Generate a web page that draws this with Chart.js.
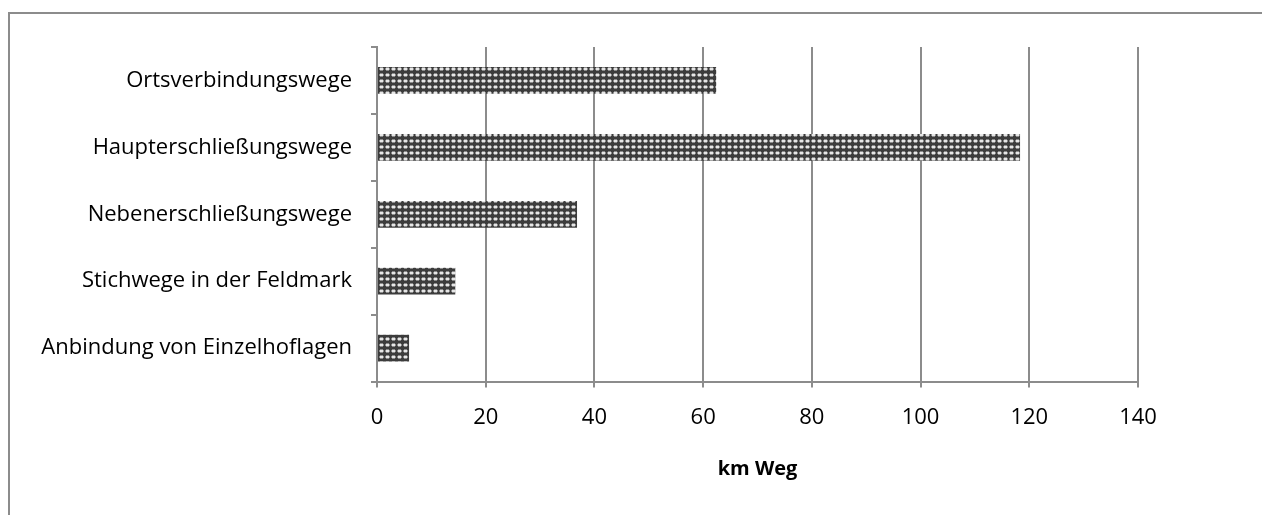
<!DOCTYPE html>
<html>
<head>
<meta charset="utf-8">
<script src="https://cdn.jsdelivr.net/npm/chart.js@4"></script>
<style>
  html, body { margin: 0; padding: 0; background: #fff; }
  #wrap { position: relative; width: 1262px; height: 515px; overflow: hidden; }
  #frame { position: absolute; left: 8px; top: 12px; width: 1300px; height: 600px;
           border-left: 2px solid #8c8c8c; border-top: 2px solid #8c8c8c; }
  canvas { position: absolute; left: 0; top: 0; }
</style>
</head>
<body>
<div id="wrap">
  <div id="frame"></div>
  <canvas id="chart" width="1262" height="515"></canvas>
</div>
<script>
/* Wegenetz — km Weg je Wegekategorie */

const categories = [
  'Ortsverbindungswege',
  'Haupterschließungswege',
  'Nebenerschließungswege',
  'Stichwege in der Feldmark',
  'Anbindung von Einzelhoflagen',
];
const kmWeg = [62.4, 118.3, 36.8, 14.4, 5.9];
const xTicks = [0, 20, 40, 60, 80, 100, 120, 140];
const axisTitle = 'km Weg';

const FONT = '"Open Sans"';
const GRID = '#8c8c8c';

// Punktraster wie im Excel-Muster
function makePattern() {
  const c = document.createElement('canvas');
  c.width = 6; c.height = 6;
  const g = c.getContext('2d');
  g.fillStyle = '#3c3c3c';
  g.fillRect(0, 0, 6, 6);
  g.fillStyle = '#8a8a8a';
  g.fillRect(2, 1, 3, 4);
  g.fillRect(1, 2, 5, 2);
  g.fillStyle = '#e6e6e6';
  g.fillRect(2, 2, 3, 2);
  return g.createPattern(c, 'repeat');
}

const ctx = document.getElementById('chart');
new Chart(ctx, {
  type: 'bar',
  data: {
    labels: categories,
    datasets: [{
      data: kmWeg,
      backgroundColor: makePattern(),
      borderWidth: 0,
      categoryPercentage: 1,
      barPercentage: 0.4,
    }],
  },
  options: {
    indexAxis: 'y',
    responsive: false,
    animation: false,
    devicePixelRatio: 1,
    layout: { padding: { left: 0, top: 47, right: 124, bottom: 34 } },
    plugins: { legend: { display: false }, tooltip: { enabled: false } },
    scales: {
      y: {
        grid: { offset: true, drawOnChartArea: false, tickLength: 6, color: GRID, lineWidth: 2 },
        border: { color: GRID, width: 2 },
        ticks: { color: '#000', padding: 19, font: { family: FONT, size: 22 } },
        afterFit(scale) { scale.width = 377; },
      },
      x: {
        min: 0,
        max: 140,
        afterBuildTicks(scale) { scale.ticks = xTicks.map(v => ({ value: v })); },
        grid: { tickLength: 6, color: GRID, lineWidth: 2 },
        border: { color: GRID, width: 2 },
        ticks: { color: '#000', padding: 17, font: { family: FONT, size: 22 } },
        title: {
          display: true,
          text: axisTitle,
          color: '#000',
          padding: { top: 9, bottom: 0 },
          font: { family: FONT, size: 20, weight: 'bold' },
        },
      },
    },
  },
});
</script>
</body>
</html>
